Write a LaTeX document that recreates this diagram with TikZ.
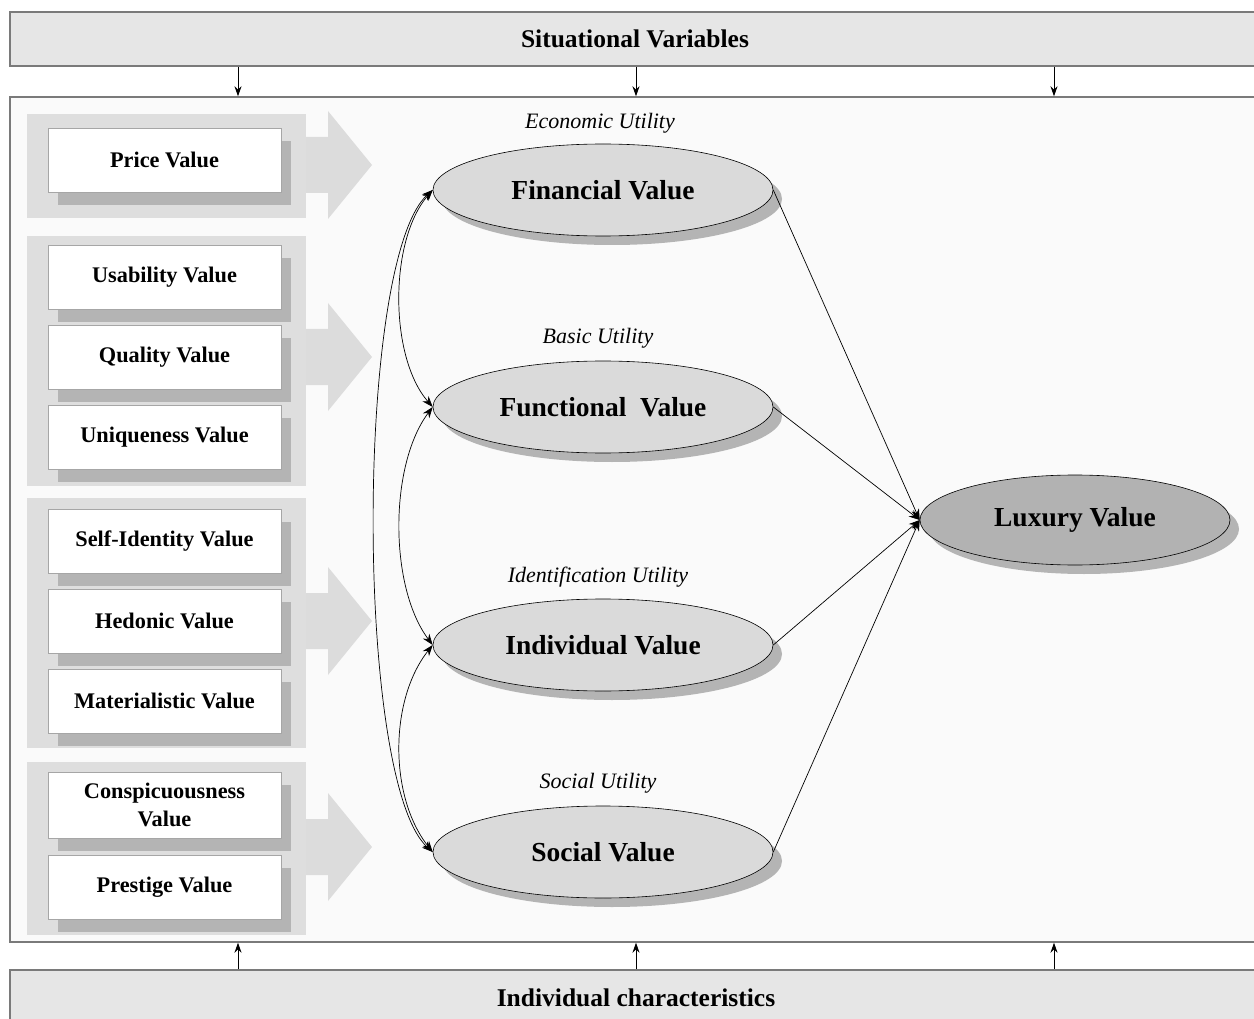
\documentclass[tikz,border=0pt]{standalone}
\usepackage{fontspec}
\setmainfont{Liberation Serif}
\usetikzlibrary{shapes.geometric,shadows,arrows.meta}
\definecolor{hdr}{HTML}{E6E6E6}
\definecolor{grp}{HTML}{DEDEDE}
\definecolor{arr}{HTML}{DCDCDC}
\definecolor{shd}{HTML}{B4B4B4}
\definecolor{ell}{HTML}{DADADA}
\definecolor{luxc}{HTML}{B2B2B2}
\definecolor{frame}{HTML}{7A7A7A}
\begin{document}
\begin{tikzpicture}[x=1pt,y=-1pt,
  hdrbox/.style={draw=frame,line width=1.6pt,fill=hdr,minimum width=1250pt,minimum height=54pt,inner sep=0pt,
    font=\fontsize{25.5}{29}\selectfont\bfseries},
  mainbox/.style={draw=frame,line width=1.4pt,fill=white!98!black,minimum width=1250pt,minimum height=845pt,inner sep=0pt},
  valbox/.style={draw=gray!70,line width=0.6pt,fill=white,minimum width=233pt,minimum height=64pt,inner sep=0pt,align=center,
    font=\fontsize{22.3}{28}\selectfont\bfseries,
    general shadow={fill=shd,shadow xshift=10pt,shadow yshift=-13pt}},
  valell/.style={ellipse,draw=black,line width=0.6pt,fill=ell,minimum width=340pt,minimum height=92pt,inner sep=0pt,
    font=\fontsize{27.5}{30}\selectfont\bfseries,
    general shadow={fill=shd,shadow xshift=9pt,shadow yshift=-9pt}},
  luxell/.style={valell,fill=luxc,minimum width=310pt,minimum height=90pt},
  util/.style={font=\fontsize{22}{25}\selectfont\itshape,inner sep=0pt},
  conn/.style={line width=0.7pt,-{Stealth[length=11pt,width=8pt]}},
  corr/.style={line width=0.7pt,{Stealth[length=11pt,width=8pt]}-{Stealth[length=11pt,width=8pt]}},
  vert/.style={line width=0.9pt,-{Stealth[length=10pt,width=7pt]}},
  grpbg/.style={fill=grp},
  bigarrow/.style={fill=arr}
]
\useasboundingbox (0,0) rectangle (1254,1019);
\fill[white] (0,0) rectangle (1254,1019);

% header, main, footer
\node[hdrbox] (top) at (635,39) {Situational Variables};
\node[mainbox] (main) at (635,519.5) {};
\node[hdrbox,minimum height=60pt] (bot) at (635,1000) {};
\node[font=\fontsize{25.5}{29}\selectfont\bfseries,inner sep=0pt] (bottxt) at (636,998) {Individual characteristics};

\coordinate (c1) at (238,0);
\coordinate (c2) at (636,0);
\coordinate (c3) at (1054,0);
\foreach \c in {c1,c2,c3}{
  \draw[vert] (top.south -| \c) -- (main.north -| \c);
  \draw[vert] (bot.north -| \c) -- (main.south -| \c);
}

% group backgrounds
\fill[grpbg] (27,114) rectangle (306,218);
\fill[grpbg] (27,236) rectangle (306,486);
\fill[grpbg] (27,498) rectangle (306,748);
\fill[grpbg] (27,762) rectangle (306,935);

% big arrows
\foreach \yc in {165,357,621,847}{
  \fill[bigarrow] (306,\yc-28) -- (328,\yc-28) -- (328,\yc-54) -- (372,\yc) -- (328,\yc+54) -- (328,\yc+28) -- (306,\yc+28) -- cycle;
}

% value boxes
\node[valbox] (price) at (164.5,160) {Price Value};
\node[valbox] (usab) at (164.5,277) {Usability Value};
\node[valbox] (qual) at (164.5,357) {Quality Value};
\node[valbox] (uniq) at (164.5,437) {Uniqueness Value};
\node[valbox] (self) at (164.5,541) {Self-Identity Value};
\node[valbox] (hedo) at (164.5,621) {Hedonic Value};
\node[valbox] (mate) at (164.5,701) {Materialistic Value};
\node[valbox,minimum height=66pt] (consp) at (164.5,805) {Conspicuousness\\Value};
\node[valbox] (prest) at (164.5,887) {Prestige Value};

% utility labels
\node[util] (u1) at (600,123) {Economic Utility};
\node[util] (u2) at (598,338) {Basic Utility};
\node[util] (u3) at (598,577) {Identification Utility};
\node[util] (u4) at (598,783) {Social Utility};

% ellipses
\node[valell] (fin) at (603,190) {Financial Value};
\node[valell] (func) at (603,407) {Functional~~Value};
\node[valell] (ind) at (603,645) {Individual Value};
\node[valell] (soc) at (603,852) {Social Value};
\node[luxell] (lux) at (1075,520) {Luxury Value};

% paths to luxury
\draw[conn] (fin.east) -- (lux.west);
\draw[conn] (func.east) -- (lux.west);
\draw[conn] (ind.east) -- (lux.west);
\draw[conn] (soc.east) -- (lux.west);

% correlations
\draw[corr] (fin.west) .. controls (389,240) and (389,357) .. (func.west);
\draw[corr] (func.west) .. controls (389,465) and (389,587) .. (ind.west);
\draw[corr] (ind.west) .. controls (389,700) and (389,797) .. (soc.west);
\draw[corr] (fin.west) .. controls (355,260) and (355,782) .. (soc.west);
\end{tikzpicture}
\end{document}
